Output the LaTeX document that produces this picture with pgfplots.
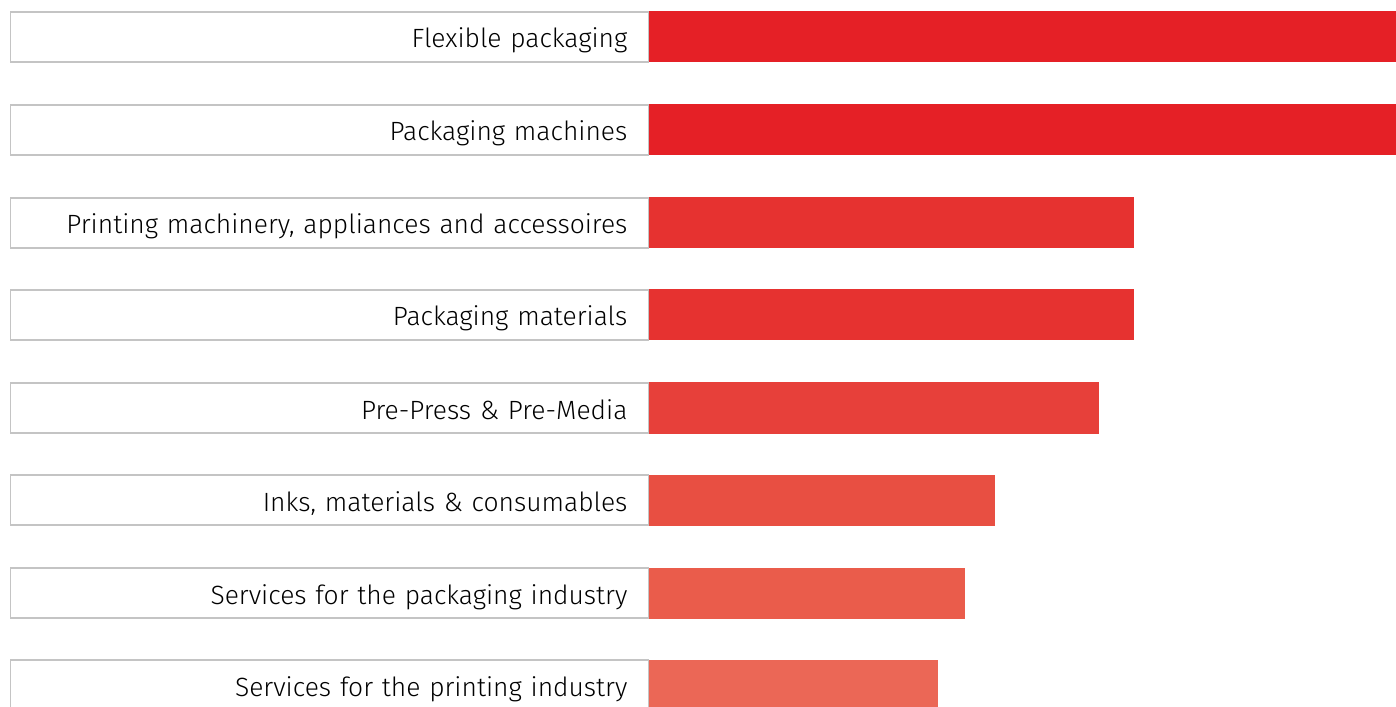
\documentclass[border=0pt]{standalone}
\usepackage{fontspec}
\setmainfont{Fira Sans}[UprightFont=* Light]
\usepackage{pgfplots}
\pgfplotsset{compat=1.18}

\definecolor{c1}{HTML}{E52026}
\definecolor{c3}{HTML}{E63230}
\definecolor{c5}{HTML}{E7403A}
\definecolor{c6}{HTML}{E84F42}
\definecolor{c7}{HTML}{EA5C4B}
\definecolor{c8}{HTML}{EB6756}
\definecolor{boxgray}{HTML}{C4C4C4}

\begin{document}
\begin{tikzpicture}[x=1bp,y=1bp]
\begin{scope}
\clip (0,0) rectangle (1396,706);
\begin{axis}[
    at={(649bp,0bp)}, anchor=south west,
    scale only axis,
    width=747bp, height=706bp,
    xmin=0, xmax=747,
    ymin=0, ymax=706,
    y dir=reverse,
    axis line style={draw=none},
    xtick=\empty,
    ytick={37,130,223,315,408,500,593,685},
    yticklabels={Flexible packaging,Packaging machines,{Printing machinery, appliances and accessoires},Packaging materials,Pre-Press \& Pre-Media,{Inks, materials \& consumables},Services for the packaging industry,Services for the printing industry},
    major tick length=0pt,
    yticklabel style={
        font=\fontsize{26.4bp}{30bp}\selectfont,
        draw=boxgray, line width=1.2bp, fill=white,
        anchor=east, xshift=0pt,
        minimum height=50bp, text width=596bp, align=right,
        text height=25bp, text depth=3bp,
        inner xsep=21bp, inner ysep=0pt
    },
    xbar, bar width=51bp, bar shift=0pt,
]
\addplot[fill=c1, draw=none] coordinates {(760,37)};
\addplot[fill=c1, draw=none] coordinates {(760,130)};
\addplot[fill=c3, draw=none] coordinates {(485,223)};
\addplot[fill=c3, draw=none] coordinates {(485,315)};
\addplot[fill=c5, draw=none] coordinates {(450,408)};
\addplot[fill=c6, draw=none] coordinates {(346,500)};
\addplot[fill=c7, draw=none] coordinates {(316,593)};
\addplot[fill=c8, draw=none] coordinates {(289,685)};
\end{axis}
\end{scope}
\useasboundingbox (0,0) rectangle (1396,706);
\end{tikzpicture}
\end{document}
